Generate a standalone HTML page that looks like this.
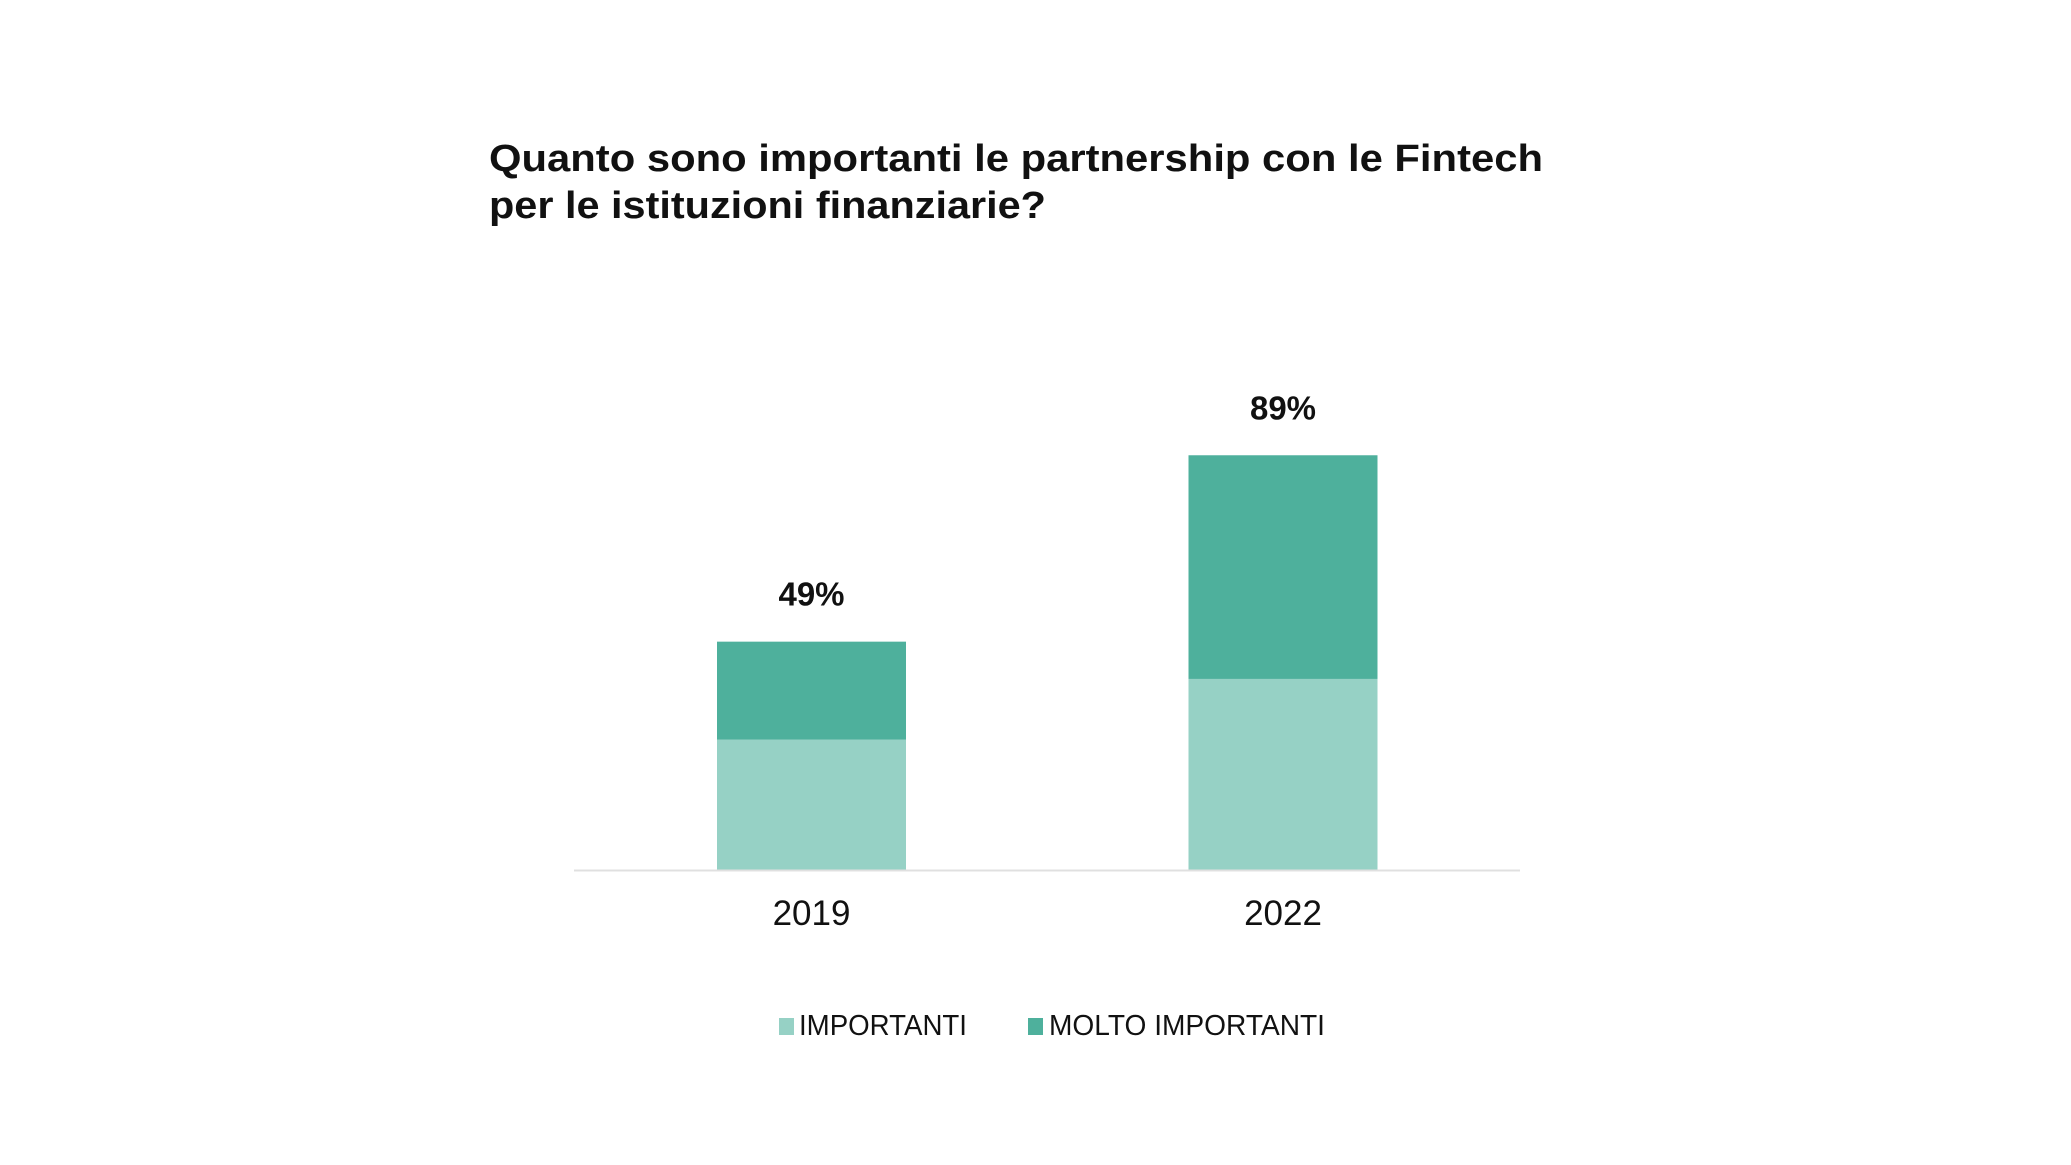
<!DOCTYPE html>
<html><head><meta charset="utf-8"><style>
html,body{margin:0;padding:0;background:#fff;}
svg{display:block;font-family:"Liberation Sans",sans-serif;}
</style></head><body>
<svg id="chart" width="2071" height="1165" viewBox="0 0 2071 1165">
<g font-size="38" font-weight="bold" fill="#111">
<text x="489" y="171" textLength="1054" lengthAdjust="spacingAndGlyphs">Quanto sono importanti le partnership con le Fintech</text>
<text x="489" y="218" textLength="557" lengthAdjust="spacingAndGlyphs">per le istituzioni finanziarie?</text>
</g>
<g id="bars"></g>
<line x1="574" y1="870.5" x2="1520" y2="870.5" stroke="#e0e0e0" stroke-width="2"/>
<g font-size="29" fill="#111">
<rect x="779" y="1018" width="15" height="17" fill="#96d1c5"/>
<text x="799" y="1035" textLength="168" lengthAdjust="spacingAndGlyphs">IMPORTANTI</text>
<rect x="1028" y="1018" width="15" height="17" fill="#4eb09c"/>
<text x="1049" y="1035" textLength="276" lengthAdjust="spacingAndGlyphs">MOLTO IMPORTANTI</text>
</g>
</svg>
<script>
const categories = ["2019", "2022"];
const importanti = [28, 41];
const moltoImportanti = [21, 48];
const totalLabels = ["49%", "89%"];

const NS = "http://www.w3.org/2000/svg";
const g = document.getElementById("bars");
const baseY = 870, pxPerPct = 4.66;
const xCenters = [811.5, 1283];
const barW = 189;
function y(v){ return baseY - v * pxPerPct; }
function mk(tag, attrs){ const e = document.createElementNS(NS, tag); for (const k in attrs) e.setAttribute(k, attrs[k]); return e; }
categories.forEach((c, i) => {
  const cx = xCenters[i];
  const r1 = mk("rect", {x: cx - barW/2, y: y(importanti[i]), width: barW, height: importanti[i]*pxPerPct, fill: "#96d1c5"});
  
  
  g.appendChild(r1);
  const top = importanti[i] + moltoImportanti[i];
  const r2 = mk("rect", {x: cx - barW/2, y: y(top), width: barW, height: moltoImportanti[i]*pxPerPct, fill: "#4eb09c"});
  
  
  g.appendChild(r2);
  const t = mk("text", {x: cx, y: y(top) - 36, "text-anchor": "middle", "font-size": "33", "font-weight": "bold", fill: "#111"});
  t.textContent = totalLabels[i];
  
  
  g.appendChild(t);
  const xl = mk("text", {x: cx, y: 925, "text-anchor": "middle", "font-size": "35", fill: "#111"});
  xl.textContent = c;
  
  
  g.appendChild(xl);
});
</script>
</body></html>
